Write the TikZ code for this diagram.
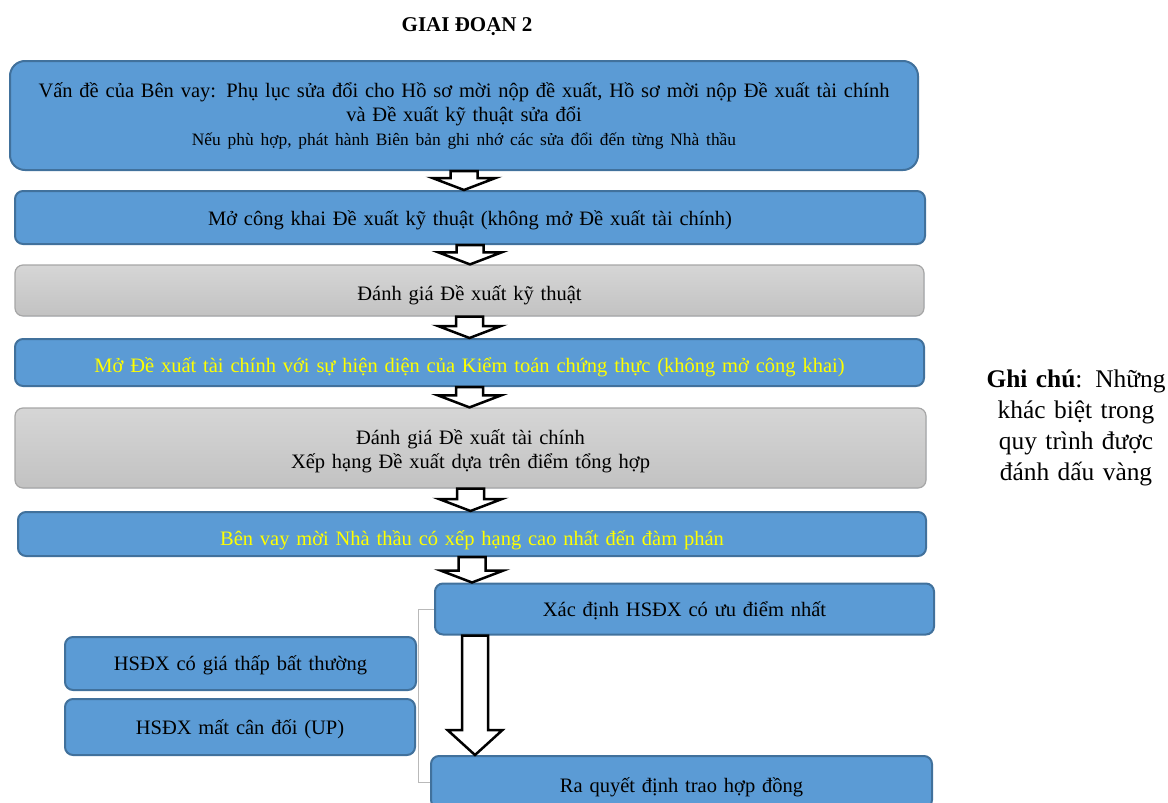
\documentclass[tikz,border=0pt]{standalone}
\usepackage{fontspec}
\setmainfont{Liberation Serif}
\usetikzlibrary{calc}
\definecolor{stageblue}{HTML}{5B9BD5}
\definecolor{stageedge}{HTML}{41719C}
\definecolor{reviewtop}{HTML}{D6D6D6}
\definecolor{reviewbot}{HTML}{C2C2C2}
\definecolor{reviewedge}{HTML}{A6A6A6}
\definecolor{markyellow}{HTML}{FFFF00}
\tikzset{
    stage/.style={draw=stageedge, fill=stageblue, line width=2pt, rounded corners=8pt, align=center, inner sep=0pt, font=\fontsize{20.5}{24}\selectfont},
    review/.style={stage, draw=reviewedge, line width=1.2pt, top color=reviewtop, bottom color=reviewbot},
    oneline/.style={text height=#1, text depth=0pt},
    flow/.style={draw=black, fill=white, line width=2.5pt, line join=miter},
    bracket/.style={draw=gray!55, line width=1pt}
}
% hollow block arrow: from, to, shaft half width, head half width, head length
\newcommand{\flowarrow}[5]{%
  \draw[flow] let \p1=(#1), \p2=(#2) in
    (\x1-#3,\y1) -- (\x1+#3,\y1) -- (\x1+#3,\y2+#5) -- (\x1+#4,\y2+#5)
    -- (\x1,\y2) -- (\x1-#4,\y2+#5) -- (\x1-#3,\y2+#5) -- cycle;}

\begin{document}
\begin{tikzpicture}[x=1pt, y=-1pt]
    \useasboundingbox (0,0) rectangle (1168,803);
    \node[font=\fontsize{21}{24}\selectfont\bfseries] (title) at (467,27) {GIAI ĐOẠN 2};

    \node[stage, rounded corners=15pt, text width=908pt, minimum height=109pt] (issue) at (464,115.5)
        {Vấn đề của Bên vay: Phụ lục sửa đổi cho Hồ sơ mời nộp đề xuất, Hồ sơ mời nộp Đề xuất tài chính\\
         và Đề xuất kỹ thuật sửa đổi\\
         {\fontsize{17.4}{20}\selectfont Nếu phù hợp, phát hành Biên bản ghi nhớ các sửa đổi đến từng Nhà thầu}};
    \node[stage, oneline=15pt, text width=910pt, minimum height=53pt] (openTech) at (470,217.5)
        {Mở công khai Đề xuất kỹ thuật (không mở Đề xuất tài chính)};
    \node[review, oneline=19pt, text width=909pt, minimum height=51pt] (evalTech) at (469.5,290.5)
        {Đánh giá Đề xuất kỹ thuật};
    \node[stage, oneline=19pt, text width=909pt, minimum height=47pt, text=markyellow] (openFin) at (469.5,362.5)
        {Mở Đề xuất tài chính với sự hiện diện của Kiểm toán chứng thực (không mở công khai)};
    \node[review, text width=911pt, minimum height=80pt] (evalFin) at (470.5,448)
        {\rule{0pt}{22pt}Đánh giá Đề xuất tài chính\\Xếp hạng Đề xuất dựa trên điểm tổng hợp};
    \node[stage, oneline=23pt, text width=908pt, minimum height=44pt, text=markyellow] (invite) at (472,534)
        {Bên vay mời Nhà thầu có xếp hạng cao nhất đến đàm phán};
    \node[stage, oneline=15pt, text width=499pt, minimum height=51pt] (identify) at (684.5,609)
        {Xác định HSĐX có ưu điểm nhất};
    \node[stage, oneline=14pt, text width=351pt, minimum height=53pt] (lowPrice) at (240.5,663.5)
        {HSĐX có giá thấp bất thường};
    \node[stage, oneline=14pt, text width=350pt, minimum height=56pt] (unbalanced) at (240,727)
        {HSĐX mất cân đối (UP)};
    \node[stage, oneline=21pt, text width=501pt, minimum height=52pt] (award) at (681.5,782)
        {Ra quyết định trao hợp đồng};

    \node[align=center, text width=192pt, font=\fontsize{25.4}{31}\selectfont] (note) at (1076,428)
        {\textbf{Ghi chú}: Những khác biệt trong quy trình được đánh dấu vàng};

    \flowarrow{issue.south}{openTech.north}{13.5pt}{31.5pt}{12pt}
    \flowarrow{openTech.south}{evalTech.north}{13.5pt}{31.5pt}{12pt}
    \flowarrow{evalTech.south}{openFin.north}{13.5pt}{31.5pt}{12pt}
    \flowarrow{openFin.south}{evalFin.north}{13.5pt}{31.5pt}{12pt}
    \flowarrow{evalFin.south}{invite.north}{13.5pt}{31.5pt}{12pt}
    \flowarrow{invite.south}{identify.north}{13.5pt}{31.5pt}{12pt}
    \flowarrow{$(identify.south west)+(41,0)$}{$(award.north west)+(45,0)$}{13pt}{27.5pt}{25pt}

    \draw[bracket] (identify.west) -| ($(award.west)+(-12,0)$) -- (award.west);
\end{tikzpicture}
\end{document}
